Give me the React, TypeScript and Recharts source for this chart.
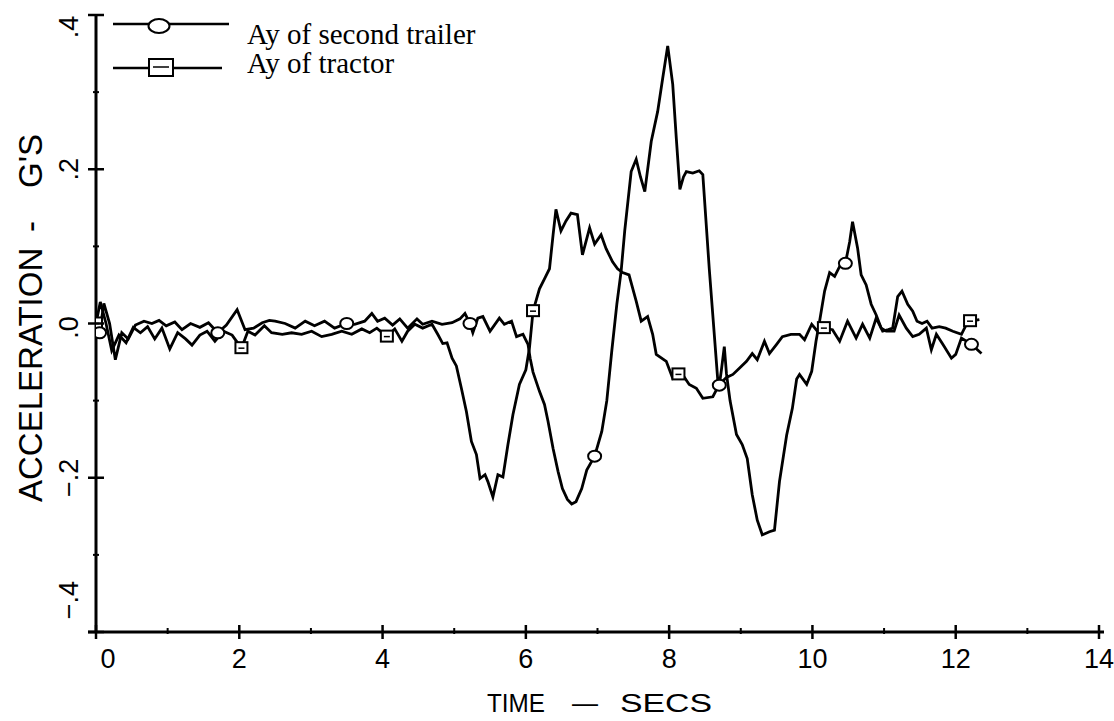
import React from 'react';
import { ComposedChart, Line, XAxis, YAxis, Customized } from 'recharts';

// time (s), lateral acceleration (g)
const trailerPoints: [number, number][] = [
  [0, 0.004], [0.05, -0.012], [0.11, 0.026], [0.19, 0.0], [0.27, -0.047], [0.36, -0.012], [0.45, -0.02],
  [0.55, -0.002], [0.67, 0.003], [0.78, 0.0], [0.88, 0.004], [0.98, -0.003], [1.1, 0.002], [1.2, -0.008],
  [1.32, 0.0], [1.45, -0.005], [1.57, 0.001], [1.7, -0.012], [1.82, -0.002], [1.97, 0.018], [2.08, -0.008],
  [2.2, -0.006], [2.32, 0.001], [2.42, 0.004], [2.5, 0.003], [2.64, 0.0], [2.78, -0.006], [2.92, 0.003],
  [3.05, -0.003], [3.19, 0.003], [3.33, -0.006], [3.5, 0.0], [3.61, -0.001], [3.75, 0.003], [3.85, 0.013],
  [3.93, 0.003], [4.03, 0.007], [4.14, -0.002], [4.24, 0.006], [4.35, -0.006], [4.48, 0.006], [4.56, -0.001],
  [4.69, 0.003], [4.83, -0.001], [4.97, 0.001], [5.08, 0.006], [5.15, 0.013], [5.22, 0.0], [5.26, -0.012],
  [5.33, 0.007], [5.4, 0.009], [5.5, -0.01], [5.63, 0.007], [5.7, -0.001], [5.8, 0.003], [5.87, -0.017],
  [5.96, -0.014], [6.03, -0.027], [6.06, -0.045], [6.1, -0.063], [6.19, -0.088], [6.26, -0.105], [6.31, -0.127],
  [6.38, -0.162], [6.45, -0.192], [6.51, -0.214], [6.58, -0.228], [6.64, -0.234], [6.7, -0.231], [6.78, -0.214],
  [6.85, -0.19], [6.96, -0.172], [7.06, -0.14], [7.13, -0.1], [7.2, -0.035], [7.27, 0.025], [7.33, 0.068],
  [7.38, 0.12], [7.47, 0.197], [7.54, 0.213], [7.6, 0.19], [7.66, 0.171], [7.75, 0.236], [7.84, 0.275],
  [7.91, 0.318], [7.98, 0.36], [8.05, 0.31], [8.1, 0.24], [8.15, 0.174], [8.2, 0.19], [8.24, 0.197],
  [8.33, 0.195], [8.42, 0.198], [8.47, 0.193], [8.56, 0.071], [8.63, -0.014], [8.68, -0.075], [8.7, -0.08],
  [8.73, -0.06], [8.77, -0.03], [8.8, -0.065], [8.85, -0.1], [8.94, -0.144], [9.02, -0.157], [9.09, -0.175],
  [9.16, -0.222], [9.23, -0.255], [9.3, -0.274], [9.4, -0.27], [9.47, -0.268], [9.54, -0.205], [9.64, -0.145],
  [9.72, -0.11], [9.78, -0.072], [9.82, -0.066], [9.92, -0.079], [9.99, -0.062], [10.05, -0.023], [10.1, 0.003],
  [10.17, 0.042], [10.24, 0.066], [10.31, 0.061], [10.38, 0.074], [10.46, 0.078], [10.52, 0.106], [10.56, 0.132],
  [10.63, 0.098], [10.68, 0.063], [10.75, 0.05], [10.82, 0.025], [10.89, 0.011], [10.96, -0.006], [11.03, -0.01],
  [11.14, -0.01], [11.21, 0.011], [11.31, -0.006], [11.4, -0.017], [11.49, -0.014], [11.59, -0.006],
  [11.66, -0.034], [11.73, -0.014], [11.82, -0.027], [11.94, -0.045], [12.0, -0.04], [12.08, -0.019],
  [12.22, -0.027], [12.36, -0.039],
];

const tractorPoints: [number, number][] = [
  [0, 0.0], [0.06, 0.028], [0.14, 0.0], [0.22, -0.035], [0.32, -0.015], [0.42, -0.025], [0.52, -0.005],
  [0.62, -0.012], [0.72, -0.004], [0.82, -0.02], [0.92, -0.006], [1.03, -0.033], [1.14, -0.012], [1.25, -0.02],
  [1.34, -0.028], [1.45, -0.015], [1.55, -0.01], [1.66, -0.023], [1.78, -0.01], [1.9, -0.015], [2.03, -0.032],
  [2.12, -0.01], [2.22, -0.015], [2.35, -0.003], [2.45, -0.012], [2.6, -0.014], [2.73, -0.012], [2.87, -0.014],
  [3.01, -0.01], [3.15, -0.017], [3.29, -0.014], [3.43, -0.01], [3.57, -0.014], [3.71, -0.007], [3.82, -0.012],
  [3.92, -0.006], [4.06, -0.017], [4.17, -0.007], [4.27, -0.023], [4.35, -0.01], [4.45, -0.001], [4.56, -0.006],
  [4.69, -0.001], [4.77, -0.014], [4.84, -0.026], [4.9, -0.025], [4.97, -0.045], [5.03, -0.055], [5.1, -0.084],
  [5.17, -0.114], [5.24, -0.153], [5.31, -0.17], [5.36, -0.201], [5.43, -0.196], [5.47, -0.205], [5.54, -0.225],
  [5.61, -0.196], [5.68, -0.199], [5.75, -0.157], [5.82, -0.118], [5.91, -0.079], [6.0, -0.06], [6.05, -0.032],
  [6.1, 0.016], [6.19, 0.045], [6.26, 0.058], [6.33, 0.071], [6.38, 0.115], [6.42, 0.148], [6.49, 0.12],
  [6.56, 0.133], [6.63, 0.143], [6.72, 0.141], [6.79, 0.089], [6.89, 0.124], [6.96, 0.103], [7.05, 0.115],
  [7.12, 0.097], [7.21, 0.08], [7.28, 0.071], [7.35, 0.066], [7.44, 0.063], [7.54, 0.029], [7.61, 0.003],
  [7.7, 0.009], [7.77, -0.014], [7.82, -0.04], [7.96, -0.049], [8.05, -0.071], [8.13, -0.066], [8.2, -0.068],
  [8.28, -0.079], [8.38, -0.084], [8.47, -0.097], [8.61, -0.095], [8.7, -0.079], [8.8, -0.07], [8.89, -0.066],
  [8.98, -0.058], [9.08, -0.049], [9.16, -0.039], [9.23, -0.047], [9.33, -0.023], [9.4, -0.039], [9.5, -0.027],
  [9.58, -0.017], [9.7, -0.014], [9.82, -0.014], [9.89, -0.021], [9.99, -0.001], [10.07, -0.01], [10.16, -0.006],
  [10.28, -0.008], [10.38, -0.023], [10.49, 0.003], [10.61, -0.019], [10.7, -0.001], [10.8, -0.019],
  [10.89, 0.007], [10.98, -0.01], [11.06, -0.008], [11.12, -0.006], [11.19, 0.035], [11.25, 0.042],
  [11.33, 0.025], [11.4, 0.016], [11.46, 0.003], [11.53, 0.0], [11.6, 0.003], [11.67, -0.006], [11.77, -0.004],
  [11.86, -0.006], [11.96, -0.01], [12.08, -0.014], [12.15, -0.001], [12.2, 0.003], [12.33, 0.005],
];

const trailerMarkTimes = [0.05, 1.7, 3.5, 5.22, 6.96, 8.7, 10.46, 12.22];
const tractorMarkTimes = [0, 2.03, 4.06, 6.1, 8.13, 10.16, 12.2];

const xTicks = [0, 1, 2, 3, 4, 5, 6, 7, 8, 9, 10, 11, 12, 13, 14];
const yTicks = [-0.4, -0.3, -0.2, -0.1, 0, 0.1, 0.2, 0.3, 0.4];
const yTickLabels: Record<number, string> = { 4: '.4', 2: '.2', 0: '.0', [-2]: '\u2212.2', [-4]: '\u2212.4' };

const seriesNames = ['Ay of second trailer', 'Ay of tractor'];
const xTitle = ['TIME', '\u2014', 'SECS'];
const yTitle = ['ACCELERATION', '-', "G'S"];

const trailerData = trailerPoints.map(([t, a]) => ({ t, a }));
const tractorData = tractorPoints.map(([t, a]) => ({ t, a }));

const SANS = '"Liberation Sans", Arial, Helvetica, sans-serif';
const SERIF = '"Liberation Serif", "Times New Roman", serif';

const makeDot = (times: number[], kind: 'circle' | 'square') => (p: any) => {
  const key = `${kind}-${p.index}`;
  const hit = times.some((t) => Math.abs(t - p.payload.t) < 1e-6);
  if (!hit || p.cx == null || p.cy == null) return <g key={key} />;
  if (kind === 'circle') {
    return <ellipse key={key} cx={p.cx} cy={p.cy} rx={6.5} ry={5.5} fill="#fff" stroke="#000" strokeWidth={2} />;
  }
  return (
    <g key={key}>
      <rect x={p.cx - 6} y={p.cy - 6} width={12} height={11} fill="#fff" stroke="#000" strokeWidth={2} />
      <line x1={p.cx - 3} y1={p.cy} x2={p.cx + 3} y2={p.cy} stroke="#000" strokeWidth={1.5} />
    </g>
  );
};

const XTick = (props: any) => {
  const { x, y, payload } = props;
  const v = payload.value;
  const major = v % 2 === 0;
  const dx = v === 0 ? 12 : 0;
  return (
    <g>
      {major ? (
        <line x1={x} y1={y - 7} x2={x} y2={y + 7} stroke="#000" strokeWidth={2.5} />
      ) : (
        <line x1={x} y1={y - 4} x2={x} y2={y + 2} stroke="#000" strokeWidth={2} />
      )}
      {v === 0 && <line x1={x - 8} y1={y} x2={x} y2={y} stroke="#000" strokeWidth={3} />}
      {v === 14 && <line x1={x} y1={y} x2={x + 5} y2={y} stroke="#000" strokeWidth={3} />}
      {major && (
        <text x={x + dx} y={y + 36} textAnchor="middle" fontFamily={SANS} fontSize={27} fill="#000">
          {String(v)}
        </text>
      )}
    </g>
  );
};

const YTick = (props: any) => {
  const { x, y, payload } = props;
  const k = Math.round(payload.value * 10);
  const major = k % 2 === 0;
  const off = k === 4 ? 12 : k === -4 ? -32 : k === 0 ? 4 : 0;
  const tx = x - 18;
  const ty = y + off;
  return (
    <g>
      {major ? (
        <line x1={x - 8} y1={y} x2={x + 8} y2={y} stroke="#000" strokeWidth={2.5} />
      ) : (
        <line x1={x - 3} y1={y} x2={x + 3} y2={y} stroke="#000" strokeWidth={2} />
      )}
      {major && (
        <text
          x={tx}
          y={ty}
          transform={`rotate(-90 ${tx} ${ty})`}
          textAnchor="middle"
          fontFamily={SANS}
          fontSize={27}
          fill="#000"
        >
          {yTickLabels[k]}
        </text>
      )}
    </g>
  );
};

const Decorations = () => (
  <g>
    {/* legend */}
    <line x1={113} y1={24} x2={229} y2={24} stroke="#000" strokeWidth={2.5} />
    <ellipse cx={159} cy={26} rx={10.5} ry={7} fill="#fff" stroke="#000" strokeWidth={2} />
    <text x={247} y={44} fontFamily={SERIF} fontSize={29} fill="#000">
      {seriesNames[0]}
    </text>
    <line x1={113} y1={68} x2={222} y2={68} stroke="#000" strokeWidth={2.5} />
    <rect x={149} y={59} width={24} height={17} fill="#fff" stroke="#000" strokeWidth={2} />
    <line x1={153} y1={67} x2={169} y2={67} stroke="#000" strokeWidth={1.5} />
    <text x={247} y={73} fontFamily={SERIF} fontSize={29} fill="#000">
      {seriesNames[1]}
    </text>
    {/* x title */}
    <text x={487} y={712} fontFamily={SANS} fontSize={26} textLength={58} lengthAdjust="spacingAndGlyphs" fill="#000">
      {xTitle[0]}
    </text>
    <text x={572} y={712} fontFamily={SANS} fontSize={26} fill="#000">
      {xTitle[1]}
    </text>
    <text x={620} y={712} fontFamily={SANS} fontSize={26} textLength={92} lengthAdjust="spacingAndGlyphs" fill="#000">
      {xTitle[2]}
    </text>
    {/* y title */}
    <text x={42} y={502} transform="rotate(-90 42 502)" fontFamily={SANS} fontSize={33} fill="#000">
      {yTitle[0]}
    </text>
    <text x={42} y={232} transform="rotate(-90 42 232)" fontFamily={SANS} fontSize={33} fill="#000">
      {yTitle[1]}
    </text>
    <text x={42} y={188} transform="rotate(-90 42 188)" fontFamily={SANS} fontSize={33} fill="#000">
      {yTitle[2]}
    </text>
  </g>
);

export default function App() {
  return (
    <div style={{ position: 'absolute', left: 0, top: 0, width: 1114, height: 721, background: '#fff' }}>
      <ComposedChart width={1114} height={721} margin={{ top: 15, right: 15, bottom: 0, left: 0 }}>
        <XAxis
          type="number"
          dataKey="t"
          domain={[0, 14]}
          ticks={xTicks}
          interval={0}
          height={89}
          tickSize={0}
          tickMargin={0}
          tickLine={false}
          axisLine={{ stroke: '#000', strokeWidth: 3 }}
          tick={<XTick />}
          allowDataOverflow
        />
        <YAxis
          type="number"
          dataKey="a"
          domain={[-0.4, 0.4]}
          ticks={yTicks}
          interval={0}
          width={96}
          tickSize={0}
          tickMargin={0}
          tickLine={false}
          axisLine={{ stroke: '#000', strokeWidth: 3 }}
          tick={<YTick />}
          allowDataOverflow
        />
        <Line
          data={tractorData}
          dataKey="a"
          type="linear"
          stroke="#000"
          strokeWidth={2.8}
          dot={makeDot(tractorMarkTimes, 'square')}
          activeDot={false}
          isAnimationActive={false}
        />
        <Line
          data={trailerData}
          dataKey="a"
          type="linear"
          stroke="#000"
          strokeWidth={2.8}
          dot={makeDot(trailerMarkTimes, 'circle')}
          activeDot={false}
          isAnimationActive={false}
        />
        <Customized component={<Decorations />} />
      </ComposedChart>
    </div>
  );
}
